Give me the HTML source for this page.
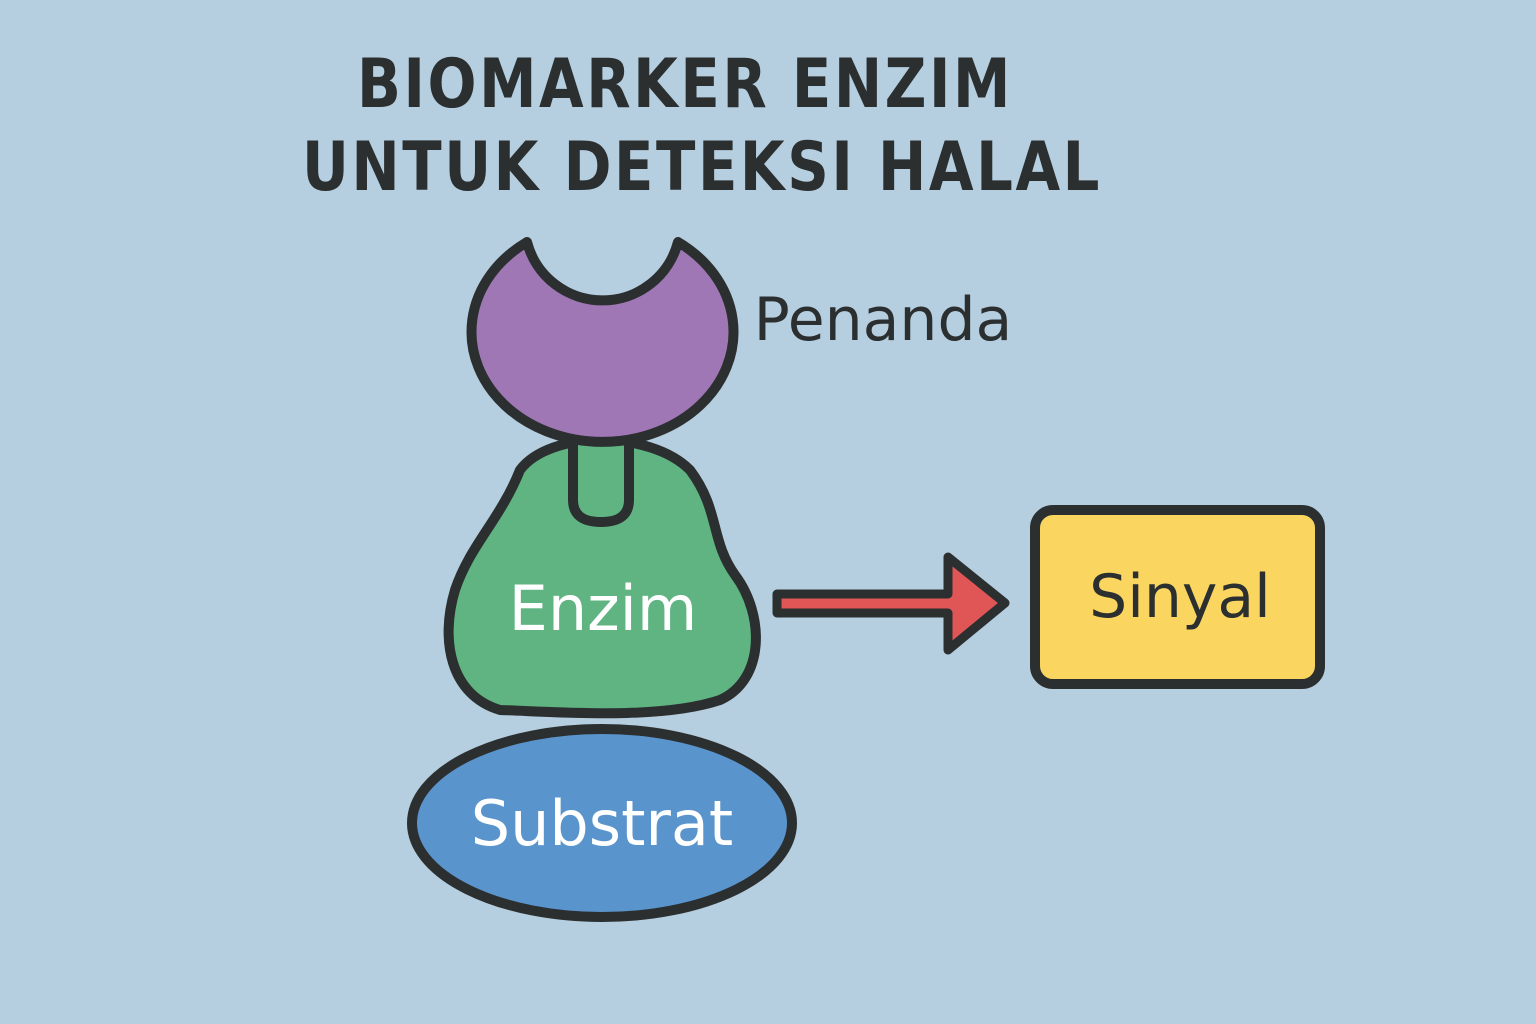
<!DOCTYPE html>
<html><head><meta charset="utf-8"><style>
html,body{margin:0;padding:0;background:#b5cfe0;}
svg{display:block}
</style></head><body>
<svg width="1536" height="1024" viewBox="0 0 1536 1024" xmlns="http://www.w3.org/2000/svg">
<rect width="1536" height="1024" fill="#b5cfe0"/>
<g font-family="'DejaVu Sans','Liberation Sans',sans-serif" font-weight="bold" fill="#2b2f30" text-anchor="middle">
<text x="685" y="107" font-size="68" letter-spacing="3" textLength="656" lengthAdjust="spacingAndGlyphs">BIOMARKER ENZIM</text>
<text x="702" y="190" font-size="68" letter-spacing="3" textLength="800" lengthAdjust="spacingAndGlyphs">UNTUK DETEKSI HALAL</text>
</g>
<!-- Green enzyme -->
<path d="M520,470 C550,430 650,430 690,470 C720,510 710,540 735,575 C765,615 765,680 720,700 C660,720 560,712 500,710 C450,695 440,640 455,590 C470,545 500,520 520,470 Z" fill="#5fb482" stroke="#2b2f30" stroke-width="10" stroke-linejoin="round"/>
<path d="M573,430 L573,500 Q573,522 601,522 Q629,522 629,500 L629,430" fill="#5fb482" stroke="#2b2f30" stroke-width="10"/>
<!-- Purple marker -->
<path d="M527,242 A78,78 0 0 0 678,242 A131,110 0 1 1 527,242 Z" fill="#a077b5" stroke="#2b2f30" stroke-width="10" stroke-linejoin="round"/>
<!-- Substrate -->
<ellipse cx="602" cy="823" rx="190" ry="94" fill="#5a94cc" stroke="#2b2f30" stroke-width="10"/>
<!-- Arrow -->
<path d="M777,594 L948,594 L948,557 L1005,603 L948,650 L948,613 L777,613 Z" fill="#e05656" stroke="#2b2f30" stroke-width="9" stroke-linejoin="round"/>
<!-- Sinyal box -->
<rect x="1035" y="510" width="285" height="174" rx="18" fill="#fad660" stroke="#2b2f30" stroke-width="10"/>
<g font-family="'DejaVu Sans','Liberation Sans',sans-serif" text-anchor="middle">
<text x="1180" y="617" font-size="60" fill="#2b2f30">Sinyal</text>
<text x="603" y="630" font-size="62" fill="#ffffff">Enzim</text>
<text x="602" y="845" font-size="62" fill="#ffffff">Substrat</text>
<text x="883" y="340" font-size="60" fill="#2b2f30">Penanda</text>
</g>
</svg>
</body></html>
